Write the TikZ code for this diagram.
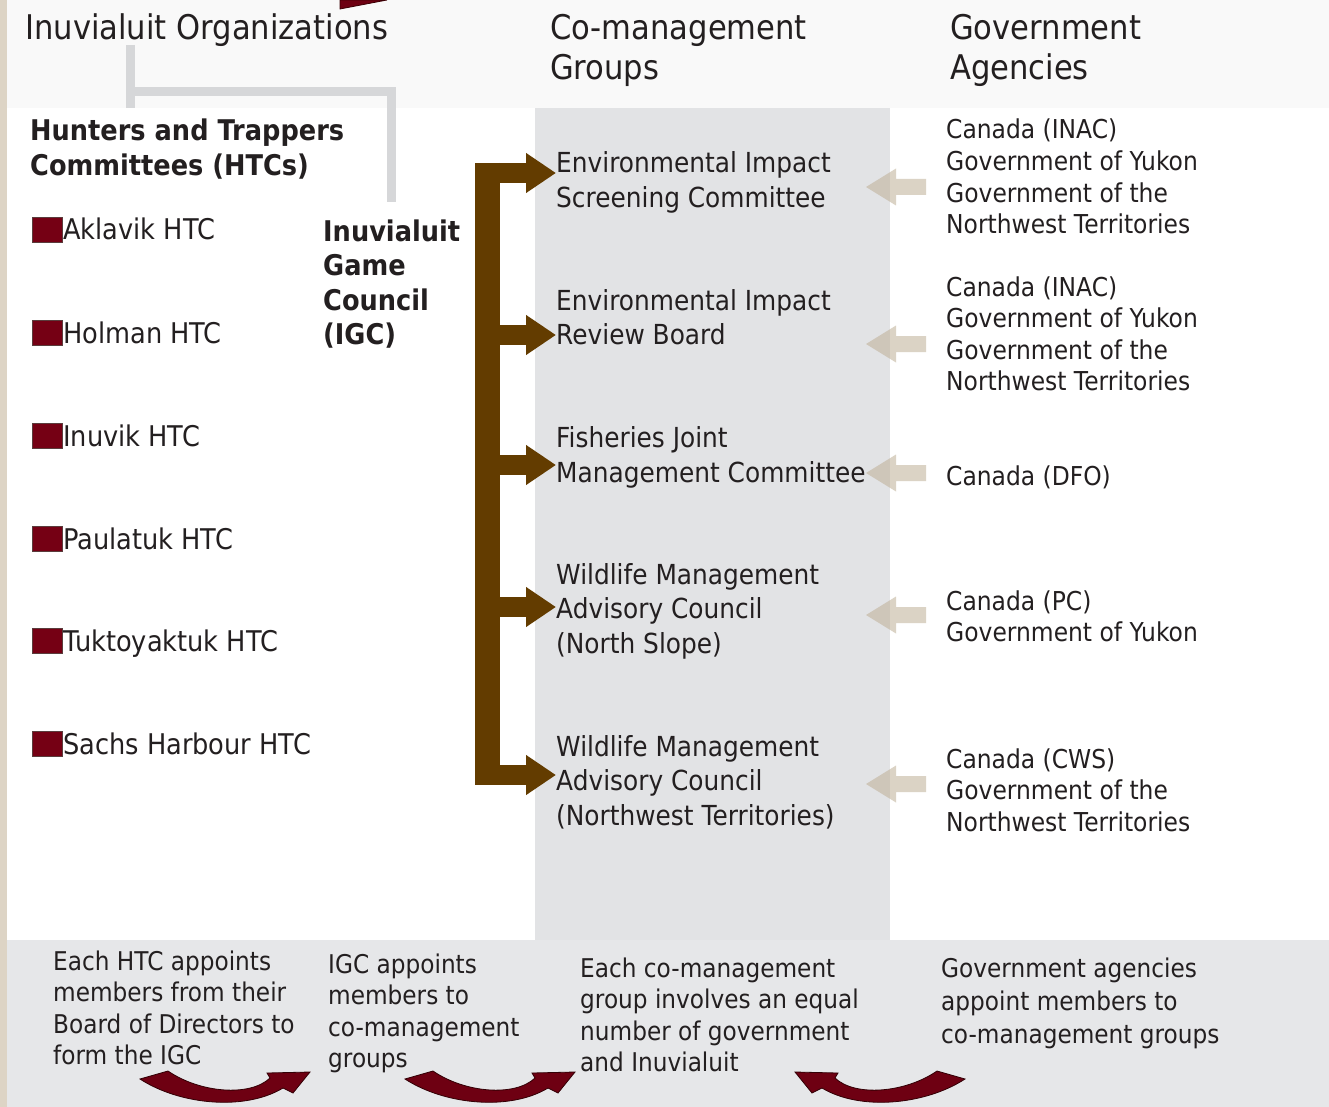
\documentclass[tikz,border=0pt]{standalone}
\usepackage{fontspec}
\setmainfont[FakeStretch=0.9]{DejaVu Sans}
\usetikzlibrary{arrows.meta}

\definecolor{inktext}{RGB}{35,31,32}
\definecolor{htcred}{RGB}{117,0,20}
\definecolor{swooshred}{RGB}{110,0,18}
\definecolor{igcbrown}{RGB}{99,60,0}
\definecolor{govbeige}{RGB}{190,175,150}
\definecolor{linkgray}{RGB}{214,215,217}
\definecolor{bandgray}{RGB}{249,249,249}
\definecolor{columngray}{RGB}{226,227,229}
\definecolor{footgray}{RGB}{230,231,233}
\definecolor{edgebeige}{RGB}{221,212,197}

% nodes sit on the baseline of their last line
\tikzset{
  heading/.style={anchor=base west, inner sep=0pt, align=left, text=inktext,
    font=\fontsize{34}{40}\selectfont},
  boldhead/.style={heading, font=\bfseries\fontsize{28.5}{34.5}\selectfont},
  htctext/.style={heading, font=\fontsize{28.5}{34}\selectfont},
  htcbox/.style={draw={rgb,255:red,90;green,60;blue,60}, line width=0.8pt,
    fill=htcred, minimum width=30pt, minimum height=25pt, inner sep=0pt},
  cotext/.style={heading, font=\fontsize{27.6}{34.5}\selectfont},
  govtext/.style={heading, font=\fontsize{26}{31.5}\selectfont},
  foottext/.style={heading, font=\fontsize{25.8}{31.5}\selectfont},
  linkline/.style={linkgray, line width=9pt},
  igcbar/.style={igcbrown, line width=25pt},
  igcarrow/.style={igcbrown, line width=20pt, -{Triangle[length=30pt, width=38pt]}},
  govarrow/.pic={
    \fill[govbeige, fill opacity=0.55] (-20,-8) -- (-50,-8) -- (-50,-18.5)
      -- (-80,0) -- (-50,18.5) -- (-50,8) -- (-20,8) -- cycle;
  },
  swoosh/.pic={
    \filldraw[fill=swooshred, draw={rgb,255:red,50;green,0;blue,5}, line width=0.8pt]
      (0,0) -- (28,-8) .. controls (60,14) and (110,18) .. (130,-1)
      -- (127,-6) -- (170,-7) -- (153,14) -- (143,9)
      .. controls (105,32) and (40,26) .. (0,0) -- cycle;
  }
}

\begin{document}
\begin{tikzpicture}[x=1pt, y=-1pt]
  \useasboundingbox (0,0) rectangle (1329,1107);

  % Backgrounds
  \fill[white] (0,0) rectangle (1329,1107);
  \fill[bandgray] (7,0) rectangle (1329,108);
  \fill[columngray] (535,108) rectangle (890,940);
  \fill[footgray] (7,940) rectangle (1329,1107);
  \fill[edgebeige] (0,0) rectangle (7,1107);

  % Tip of an arrow coming in from above
  \filldraw[fill=swooshred, draw={rgb,255:red,60;green,0;blue,5}, line width=0.8pt]
    (340,0) -- (340,9) -- (387,0) -- cycle;

  % Headings
  \node[heading] (org) at (25,40) {Inuvialuit Organizations};
  \node[heading] (cogroups) at (550,80) {Co-management\\Groups};
  \node[heading] (govagencies) at (950,80) {Government\\Agencies};

  % HTCs
  \node[boldhead] (htcs) at (30,175.5) {Hunters and Trappers\\Committees (HTCs)};
  \foreach \name/\y [count=\i] in {Aklavik/240, Holman/343, Inuvik/446,
      Paulatuk/549, Tuktoyaktuk/651, Sachs Harbour/754} {
    \node[htcbox] (box\i) at (47,\y-10.5) {};
    \node[htctext] (htc\i) at (63,\y) {\name\ HTC};
  }

  % IGC
  \node[boldhead] (igc) at (323,344.5) {Inuvialuit\\Game\\Council\\(IGC)};
  \draw[linkline] (130,45) -- (130,108);
  \draw[linkline] (130,92) -- (igc.north |- 0,92) -- ([yshift=17pt]igc.north);

  % Co-management groups
  \node[cotext] (esc) at (556,207.5) {Environmental Impact\\Screening Committee};
  \node[cotext] (eirb) at (556,344.5) {Environmental Impact\\Review Board};
  \node[cotext] (fjmc) at (556,482) {Fisheries Joint\\Management Committee};
  \node[cotext] (wmacns) at (556,653) {Wildlife Management\\Advisory Council\\(North Slope)};
  \node[cotext] (wmacnwt) at (556,825) {Wildlife Management\\Advisory Council\\(Northwest Territories)};

  % IGC bracket
  \draw[igcbar] (487.5,163) -- (487.5,785);
  \draw[igcarrow] (475,173) -- (esc.west |- 0,173);
  \draw[igcarrow] (500,335) -- (eirb.west |- 0,335);
  \draw[igcarrow] (500,465) -- (fjmc.west |- 0,465);
  \draw[igcarrow] (500,607) -- (wmacns.west |- 0,607);
  \draw[igcarrow] (475,775) -- (wmacnwt.west |- 0,775);

  % Government agencies
  \node[govtext] (gov1) at (946,233.5) {Canada (INAC)\\Government of Yukon\\Government of the\\Northwest Territories};
  \node[govtext] (gov2) at (946,390.5) {Canada (INAC)\\Government of Yukon\\Government of the\\Northwest Territories};
  \node[govtext] (gov3) at (946,485) {Canada (DFO)};
  \node[govtext] (gov4) at (946,641.5) {Canada (PC)\\Government of Yukon};
  \node[govtext] (gov5) at (946,831) {Canada (CWS)\\Government of the\\Northwest Territories};
  \pic at (gov1.west |- 0,187) {govarrow};
  \pic at (gov2.west |- 0,344) {govarrow};
  \pic at (gov3.west |- 0,473) {govarrow};
  \pic at (gov4.west |- 0,615) {govarrow};
  \pic at (gov5.west |- 0,784) {govarrow};

  % Notes along the bottom
  \node[foottext] (note1) at (53,1064.5) {Each HTC appoints\\members from their\\Board of Directors to\\form the IGC};
  \node[foottext] (note2) at (328,1067.5) {IGC appoints\\members to\\co-management\\groups};
  \node[foottext] (note3) at (580,1071.5) {Each co-management\\group involves an equal\\number of government\\and Inuvialuit};
  \node[foottext, font=\fontsize{25.8}{33}\selectfont] (note4) at (941,1043) {Government agencies\\appoint members to\\co-management groups};
  \pic at (140,1079) {swoosh};
  \pic at (405,1079) {swoosh};
  \pic[xscale=-1] at (965,1079) {swoosh};
\end{tikzpicture}
\end{document}
